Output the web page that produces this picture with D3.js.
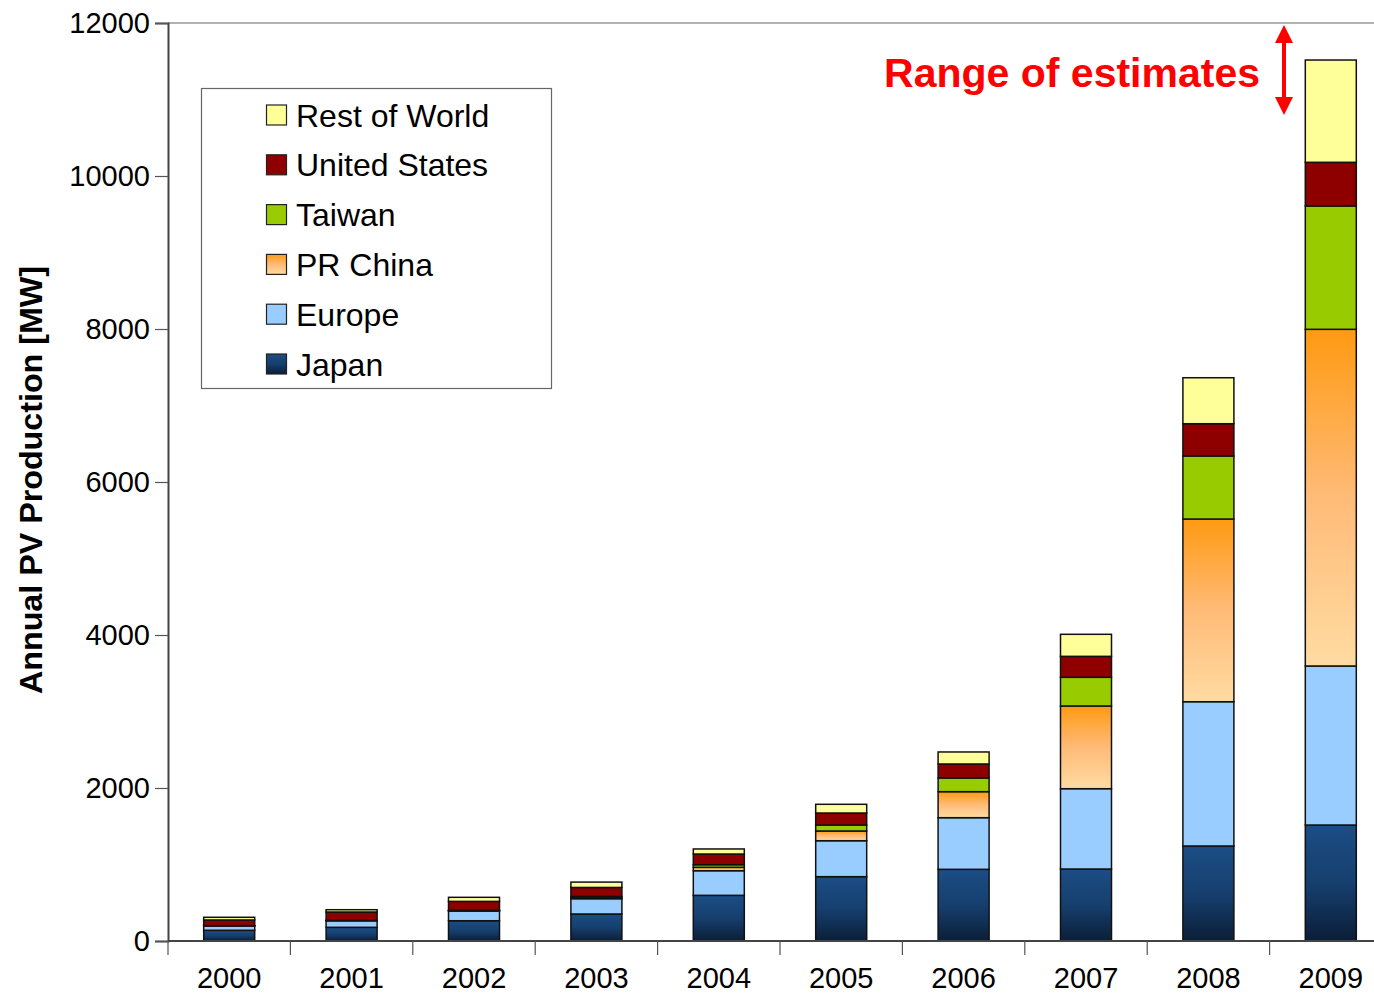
<!DOCTYPE html>
<html>
<head>
<meta charset="utf-8">
<script src="https://cdn.jsdelivr.net/npm/d3@7/dist/d3.min.js"></script>
<style>
  body { margin: 0; background: #fff; }
  svg { display: block; }
  text { font-family: "Liberation Sans", Arial, sans-serif; }
</style>
</head>
<body>
<svg id="chart" width="1374" height="994"></svg>
<script>
// data (MW)
var years = ["2000", "2001", "2002", "2003", "2004", "2005", "2006", "2007", "2008", "2009"];
var japan  = [140, 179, 265, 353, 597, 841, 937, 941, 1242, 1516];
var europe = [58, 86, 127, 200, 322, 470, 675, 1050, 1886, 2079];
var china  = [2, 3, 6, 12, 44, 127, 340, 1081, 2388, 4401];
var taiwan = [1, 2, 3, 17, 34, 78, 179, 375, 824, 1612];
var usa    = [74, 109, 117, 118, 140, 157, 183, 274, 422, 571];
var rest   = [35, 30, 53, 70, 66, 114, 157, 288, 601, 1337];

var seriesKeys = ["japan", "europe", "china", "taiwan", "usa", "rest"];
var seriesNames = ["Japan", "Europe", "PR China", "Taiwan", "United States", "Rest of World"];
var yTicks = [0, 2000, 4000, 6000, 8000, 10000, 12000];

var fills = {
  japan: "url(#gradJapan)",
  europe: "#99ccff",
  china: "url(#gradChina)",
  taiwan: "#99cc00",
  usa: "#8e0000",
  rest: "#ffff99"
};

var svg = d3.select("#chart");

// gradients
var defs = svg.append("defs");
var gj = defs.append("linearGradient").attr("id", "gradJapan")
    .attr("x1", 0).attr("y1", 0).attr("x2", 0).attr("y2", 1);
gj.append("stop").attr("offset", "0%").attr("stop-color", "#1b4d85");
gj.append("stop").attr("offset", "50%").attr("stop-color", "#163f6e");
gj.append("stop").attr("offset", "100%").attr("stop-color", "#0b1e38");
var gc = defs.append("linearGradient").attr("id", "gradChina")
    .attr("x1", 0).attr("y1", 0).attr("x2", 0).attr("y2", 1);
gc.append("stop").attr("offset", "0%").attr("stop-color", "#ff9a12");
gc.append("stop").attr("offset", "50%").attr("stop-color", "#ffbb78");
gc.append("stop").attr("offset", "100%").attr("stop-color", "#ffdba2");

var rows = years.map(function(y, i) {
  return { year: y, japan: japan[i], europe: europe[i], china: china[i],
           taiwan: taiwan[i], usa: usa[i], rest: rest[i] };
});

var x = d3.scaleBand().domain(years).range([168, 1392]).padding(0);
var y = d3.scaleLinear().domain([0, 12000]).range([941, 23]);
var barW = 51;

// top frame line
svg.append("line")
    .attr("x1", 168).attr("x2", 1374)
    .attr("y1", y(12000)).attr("y2", y(12000))
    .attr("stroke", "#999").attr("stroke-width", 1.5);

// bars
var stack = d3.stack().keys(seriesKeys)(rows);

svg.append("g").selectAll("g")
  .data(stack)
  .enter().append("g")
    .attr("fill", function(d) { return fills[d.key]; })
  .selectAll("rect")
  .data(function(d) { return d; })
  .enter().append("rect")
    .attr("x", function(d) { return x(d.data.year) + x.bandwidth() / 2 - barW / 2; })
    .attr("width", barW)
    .attr("y", function(d) { return y(d[1]); })
    .attr("height", function(d) { return y(d[0]) - y(d[1]); })
    .attr("stroke", "#111")
    .attr("stroke-width", 1.5);

// y axis
var yAxis = svg.append("g")
    .attr("transform", "translate(168,0)")
    .call(d3.axisLeft(y).tickValues(yTicks).tickSize(13).tickPadding(5).tickFormat(d3.format("d")));
yAxis.select(".domain").attr("stroke", "#444").attr("stroke-width", 2);
yAxis.selectAll(".tick line").attr("stroke", "#555").attr("stroke-width", 1.2);
yAxis.selectAll(".tick text")
    .attr("font-size", 29).attr("font-family", "Liberation Sans, Arial, sans-serif")
    .attr("fill", "#000");

// x axis
var xAxis = svg.append("g")
    .attr("transform", "translate(0,941)")
    .call(d3.axisBottom(x).tickSize(0).tickPadding(26));
xAxis.select(".domain").remove();
xAxis.selectAll(".tick text")
    .attr("font-size", 29).attr("font-family", "Liberation Sans, Arial, sans-serif")
    .attr("fill", "#000");
svg.append("line")
    .attr("x1", 168).attr("x2", 1374)
    .attr("y1", 941).attr("y2", 941)
    .attr("stroke", "#444").attr("stroke-width", 2);
svg.append("g").selectAll("line")
  .data(years)
  .enter().append("line")
    .attr("x1", function(d) { return x(d); })
    .attr("x2", function(d) { return x(d); })
    .attr("y1", 941).attr("y2", 955)
    .attr("stroke", "#555").attr("stroke-width", 1.2);

// y title
svg.append("text")
    .attr("transform", "translate(42,480) rotate(-90)")
    .attr("text-anchor", "middle")
    .attr("font-family", "Liberation Sans Narrow, Arial Narrow, Liberation Sans, sans-serif")
    .attr("font-weight", "bold")
    .attr("font-size", 31)
    .attr("textLength", 428)
    .attr("lengthAdjust", "spacingAndGlyphs")
    .text("Annual PV Production [MW]");

// legend
var legend = svg.append("g");
legend.append("rect")
    .attr("x", 201.5).attr("y", 88.5).attr("width", 350).attr("height", 300)
    .attr("fill", "#fff").attr("stroke", "#666").attr("stroke-width", 1.2);
var legendItems = seriesKeys.slice().reverse();
var legendNames = seriesNames.slice().reverse();
var li = legend.selectAll(".item")
  .data(legendItems)
  .enter().append("g")
    .attr("class", "item")
    .attr("transform", function(d, i) { return "translate(0," + (115 + i * 49.8) + ")"; });
li.append("rect")
    .attr("x", 266.5).attr("y", -10).attr("width", 20).attr("height", 20)
    .attr("fill", function(d) { return fills[d]; })
    .attr("stroke", "#222").attr("stroke-width", 1.2);
li.append("text")
    .attr("x", 296).attr("y", 11.5)
    .attr("font-size", 32)
    .attr("fill", "#000")
    .text(function(d, i) { return legendNames[i]; });

// annotation
svg.append("text")
    .attr("x", 1260).attr("y", 87)
    .attr("text-anchor", "end")
    .attr("font-family", "Lato, Open Sans, sans-serif")
    .attr("font-weight", "bold")
    .attr("font-size", 41)
    .attr("fill", "#ff0000")
    .text("Range of estimates");

var arrowX = 1284;
svg.append("line")
    .attr("x1", arrowX).attr("x2", arrowX)
    .attr("y1", 38).attr("y2", 100)
    .attr("stroke", "#ff0000").attr("stroke-width", 4);
svg.append("path")
    .attr("d", "M" + arrowX + ",25 L" + (arrowX - 9) + ",43 L" + (arrowX + 9) + ",43 Z")
    .attr("fill", "#ff0000");
svg.append("path")
    .attr("d", "M" + arrowX + ",115 L" + (arrowX - 9) + ",97 L" + (arrowX + 9) + ",97 Z")
    .attr("fill", "#ff0000");
</script>
</body>
</html>
